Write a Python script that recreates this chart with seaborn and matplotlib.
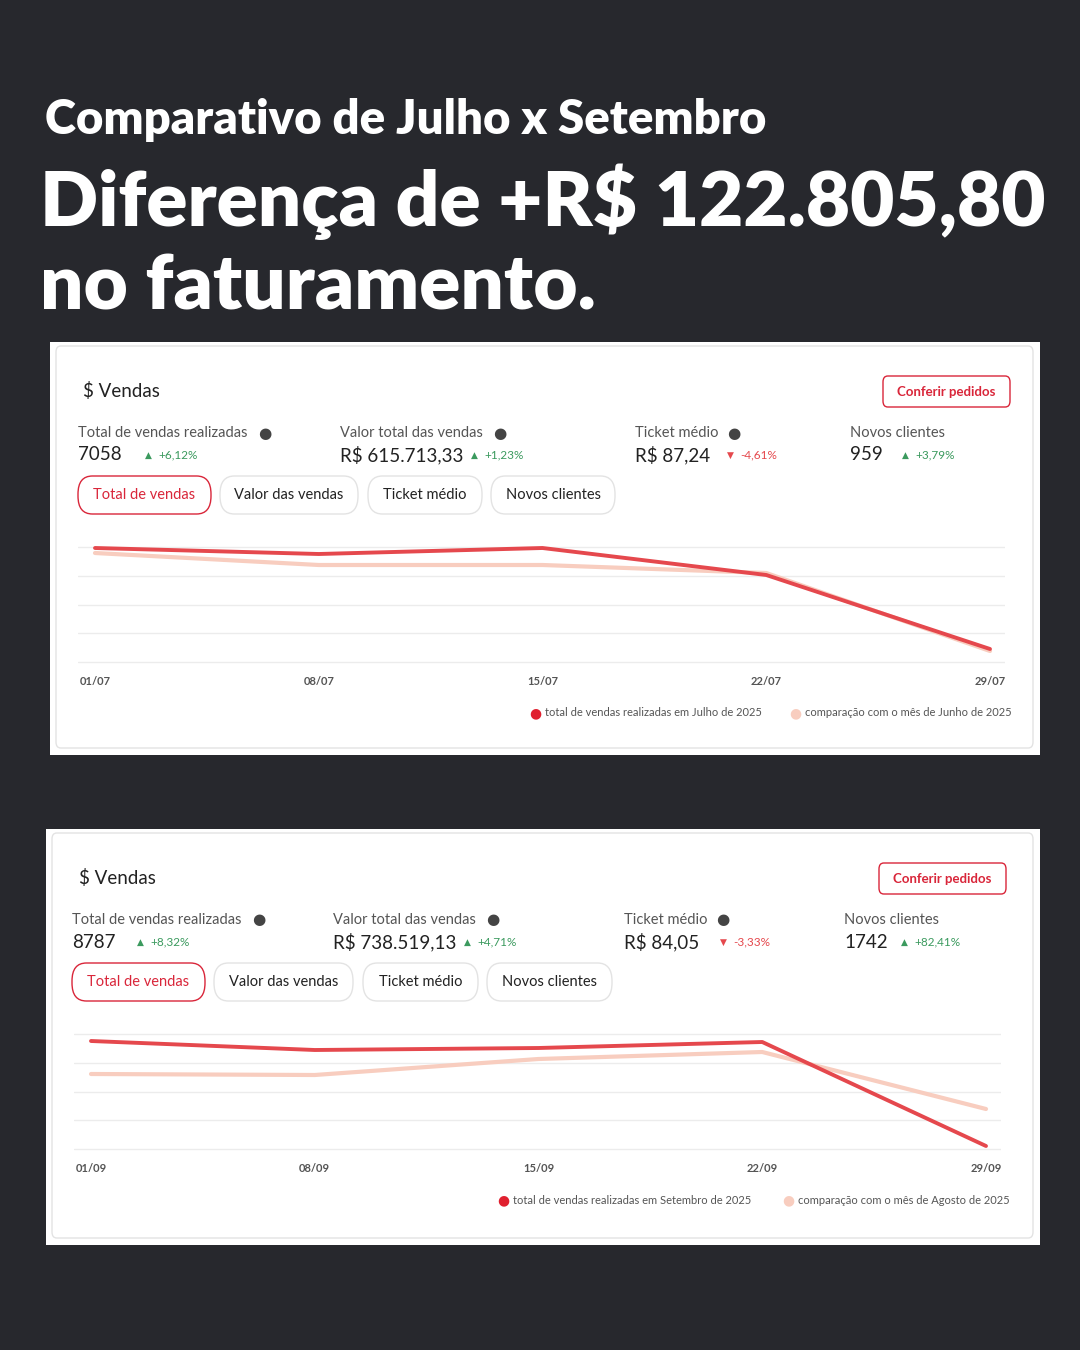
import matplotlib.pyplot as plt
import seaborn as sns
from matplotlib.patches import FancyBboxPatch, Rectangle

sns.set_theme(style="white")
plt.rcParams["font.family"] = ["Lato", "DejaVu Sans"]

W, H = 1080, 1350
BG = "#27282d"
RED = "#e5484d"
PINK = "#f8cdbf"
GREEN = "#3b9a5e"

title_1 = "Comparativo de Julho x Setembro"
title_2 = "Diferença de +R$ 122.805,80"
title_3 = "no faturamento."

days = [1, 8, 15, 22, 29]
jul_ticks = ["01/07", "08/07", "15/07", "22/07", "29/07"]
set_ticks = ["01/09", "08/09", "15/09", "22/09", "29/09"]
jul_sales = [114, 108, 114, 87, 13]
jun_sales = [109, 97, 97, 89, 11]
set_sales = [108, 99, 101, 107, 3]
ago_sales = [75, 74, 90, 97, 40]

metric_labels = ["Total de vendas realizadas", "Valor total das vendas", "Ticket médio", "Novos clientes"]
jul_values = ["7058", "R$ 615.713,33", "R$ 87,24", "959"]
jul_deltas = ["+6,12%", "+1,23%", "-4,61%", "+3,79%"]
set_values = ["8787", "R$ 738.519,13", "R$ 84,05", "1742"]
set_deltas = ["+8,32%", "+4,71%", "-3,33%", "+82,41%"]
tabs = ["Total de vendas", "Valor das vendas", "Ticket médio", "Novos clientes"]

fig = plt.figure(figsize=(W / 100, H / 100), dpi=100)
fig.patch.set_facecolor(BG)


def fx(x):
    return x / W


def fy(y):
    return 1 - y / H


def txt(x, y, s, **kw):
    kw.setdefault("va", "center")
    fig.text(fx(x), fy(y), s, **kw)


def box(x0, y0, x1, y1, ec, fc="white", r=8, lw=1):
    fig.patches.append(FancyBboxPatch((fx(x0), fy(y1)), fx(x1 - x0), (y1 - y0) / H,
                                      boxstyle=f"round,pad=0,rounding_size={r / H}",
                                      transform=fig.transFigure, ec=ec, fc=fc, lw=lw))


txt(45, 120, title_1, color="white", fontsize=34, fontweight="heavy")
txt(40, 202, title_2, color="white", fontsize=55, fontweight="heavy")
txt(40, 288, title_3, color="white", fontsize=55, fontweight="heavy")


def panel(ox, oy, pw, ph, values, deltas, mx, tx, ticks, main, comp, leg, legx, tw):
    fig.patches.append(Rectangle((fx(ox), fy(oy + ph)), fx(pw), ph / H,
                                 transform=fig.transFigure, fc="white", ec="none"))
    box(ox + 6, oy + 4, ox + pw - 7, oy + ph - 7, "#e3e3e3", r=6)
    txt(ox + 33, oy + 49, "$ Vendas", color="#222222", fontsize=13.5)
    box(ox + 833, oy + 34, ox + 960, oy + 65, "#d9263a", r=6)
    txt(ox + 896, oy + 50, "Conferir pedidos", color="#d9263a", fontsize=9.5,
        fontweight="bold", ha="center")
    for i in range(4):
        x = ox + mx[i]
        txt(x, oy + 91, metric_labels[i], color="#555555", fontsize=10.5)
        if i < 3:
            txt(x + [180, 153, 92][i], oy + 91, "●", color="#444444", fontsize=11,
                family="DejaVu Sans")
        txt(x, oy + 113, values[i], color="#222222", fontsize=13.5)
        up = not deltas[i].startswith("-")
        c = GREEN if up else RED
        txt(x + tx[i], oy + 113, "▲" if up else "▼", color=c, fontsize=6.5)
        txt(x + tx[i] + 13, oy + 113, deltas[i], color=c, fontsize=8.5)
    for i, (a, b) in enumerate(tw):
        sel = i == 0
        box(ox + a, oy + 134, ox + b, oy + 172, "#d9263a" if sel else "#e3e3e3", r=18)
        txt(ox + (a + b) / 2, oy + 153, tabs[i], color="#d9263a" if sel else "#222222",
            fontsize=10.5, ha="center")
    # chart
    x_left, x_right = ox + 28, ox + 955
    base = oy + 320
    ax = fig.add_axes([fx(x_left), fy(base + 4), (x_right - x_left) / W, 124 / H])
    ax.set_zorder(5)
    ax.set_facecolor("none")
    for g in [0, 28.75, 57.5, 86.25, 115]:
        ax.axhline(g, color="#ececec", lw=1, zorder=0)
    sns.lineplot(x=days, y=comp, ax=ax, color=PINK, lw=3)
    sns.lineplot(x=days, y=main, ax=ax, color=RED, lw=2.8)
    t0, t1 = ox + 45, ox + 940
    ppd = (t1 - t0) / 28
    ax.set_xlim(1 - (t0 - x_left) / ppd, 29 + (x_right - t1) / ppd)
    ax.set_ylim(-4, 120)
    ax.set_xticks(days)
    ax.set_xticklabels(ticks, fontsize=8, fontweight="bold", color="#555555")
    ax.tick_params(axis="x", length=0, pad=7)
    ax.set_yticks([])
    sns.despine(ax=ax, left=True, bottom=True)
    # legend
    ly = oy + 371
    txt(ox + legx[0], ly, "●", color="#e0202f", fontsize=10, ha="center", family="DejaVu Sans")
    txt(ox + legx[0] + 10, ly, leg[0], color="#555555", fontsize=8)
    txt(ox + legx[1], ly, "●", color=PINK, fontsize=10, ha="center", family="DejaVu Sans")
    txt(ox + legx[1] + 10, ly, leg[1], color="#555555", fontsize=8)


panel(50, 342, 990, 413, jul_values, jul_deltas, [28, 290, 585, 800], [67, 131, 92, 52],
      jul_ticks, jul_sales, jun_sales,
      ["total de vendas realizadas em Julho de 2025", "comparação com o mês de Junho de 2025"],
      [485, 745], [(28, 161), (170, 308), (318, 432), (441, 565)])
panel(46, 829, 994, 416, set_values, set_deltas, [26, 287, 578, 798], [65, 131, 96, 57],
      set_ticks, set_sales, ago_sales,
      ["total de vendas realizadas em Setembro de 2025", "comparação com o mês de Agosto de 2025"],
      [457, 742], [(26, 159), (168, 307), (317, 432), (441, 566)])

fig.savefig("out.png", dpi=100, facecolor=BG)
